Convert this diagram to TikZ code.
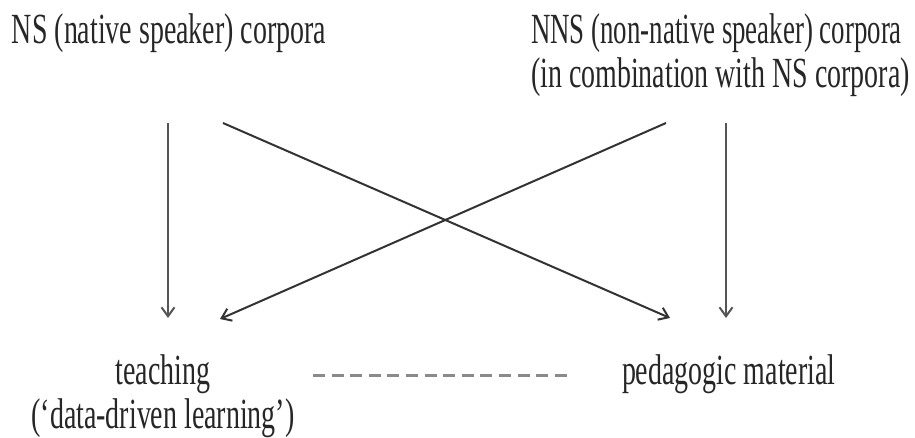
\documentclass[tikz,border=0pt]{standalone}
\usepackage{fontspec}
\setmainfont{Liberation Serif}[FakeStretch=0.65]
\newfontfamily\tighterserif{Liberation Serif}[FakeStretch=0.625]
\usetikzlibrary{arrows.meta}
\definecolor{inkdark}{HTML}{262626}
\definecolor{linedark}{HTML}{333333}
\definecolor{linemid}{HTML}{555555}
\definecolor{dashgray}{HTML}{8A8A8A}
\begin{document}
\begin{tikzpicture}[x=1pt,y=-1pt,
  caption/.style={inner sep=0pt, outer sep=0pt, text=inkdark,
    font=\fontsize{43}{44}\selectfont},
  flow/.style={draw=linedark, line width=2pt,
    -{Straight Barb[length=9pt,width=13pt,line width=2pt]}},
  vflow/.style={flow, draw=linemid},
  link/.style={draw=dashgray, line width=3pt,
    dash pattern=on 12pt off 6.6pt}]
\useasboundingbox (0,0) rectangle (915,437);

% corpus types (multi-line nodes are anchored on their last baseline)
\node[caption, anchor=base west] (ns) at (12,43) {NS (native speaker) corpora};
\node[caption, anchor=base west, align=left] (nns) at (531,87)
  {{\tighterserif NNS (non-native speaker) corpora}\\(in combination with NS corpora)};

% applications
\node[caption, anchor=base, align=center] (teach) at (163,428)
  {teaching\\(‘data-driven learning’)};
\node[caption, anchor=base west] (mat) at (622,384) {pedagogic material};

% arrow end points
\coordinate (nsA) at (168,123);
\coordinate (nsB) at (223,123);
\coordinate (nnsA) at (666,123);
\coordinate (nnsB) at (726,123);
\coordinate (teachA) at (168,318);
\coordinate (teachB) at (220,319);
\coordinate (matA) at (670,318);
\coordinate (matB) at (726,318);
\coordinate (linkA) at (313,375);
\coordinate (linkB) at (567,375);

\draw[vflow] (nsA) -- (teachA);
\draw[flow] (nsB) -- (matA);
\draw[flow] (nnsA) -- (teachB);
\draw[vflow] (nnsB) -- (matB);
\draw[link] (linkA) -- (linkB);
\end{tikzpicture}
\end{document}
